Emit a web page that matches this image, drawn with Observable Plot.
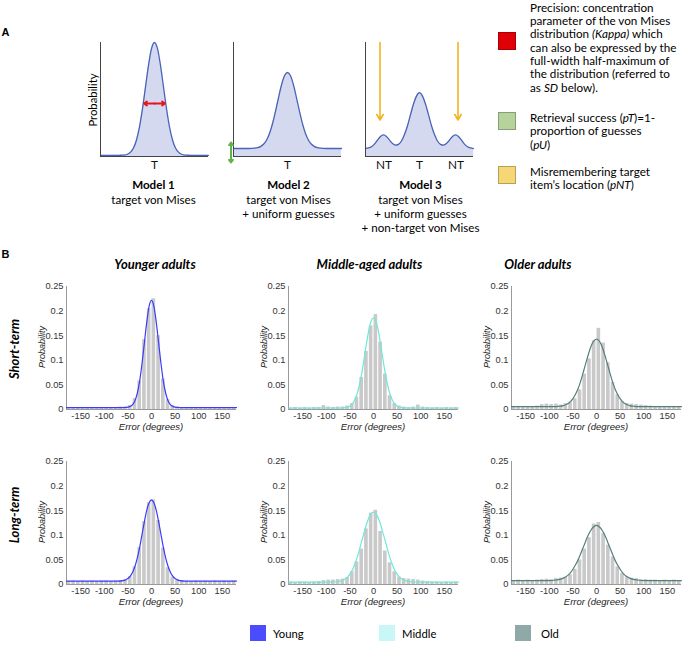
<!DOCTYPE html>
<html><head><meta charset="utf-8">
<script src="https://cdn.jsdelivr.net/npm/d3@7"></script>
<script src="https://cdn.jsdelivr.net/npm/@observablehq/plot@0.6"></script>
<style>
body{margin:0;background:#fff;}
#fig{position:relative;width:683px;height:645px;overflow:hidden;font-family:Lato,"Open Sans",sans-serif;color:#000;}
#fig svg{position:absolute;overflow:visible;background:transparent;}
.t{position:absolute;white-space:nowrap;line-height:1.15;}
.sw{position:absolute;box-sizing:border-box;}
</style></head><body><div id="fig"></div>
<script>
// ---------- Panel A: schematic model curves ----------
const modelX = [-54,-51,-48,-45,-42,-39,-36,-33,-30,-27,-24,-21,-18,-15,-12,-9,-6,-3,0,3,6,9,12,15,18,21,24,27,30,33,36,39,42,45,48,51,54];
const model1Y = [0.01,0.01,0.01,0.01,0.01,0.01,0.01,0.011,0.013,0.02,0.038,0.075,0.145,0.26,0.42,0.61,0.80,0.947,1.0,0.947,0.80,0.61,0.42,0.26,0.145,0.075,0.038,0.02,0.013,0.011,0.01,0.01,0.01,0.01,0.01,0.01,0.01];
const model2Y = [0.07,0.07,0.07,0.07,0.07,0.07,0.071,0.073,0.077,0.087,0.107,0.143,0.202,0.287,0.395,0.515,0.627,0.708,0.737,0.708,0.627,0.515,0.395,0.287,0.202,0.143,0.107,0.087,0.077,0.073,0.071,0.07,0.07,0.07,0.07,0.07,0.07];
const model3Y = [0.07,0.075,0.086,0.109,0.143,0.176,0.19,0.176,0.144,0.114,0.10,0.107,0.136,0.192,0.27,0.367,0.46,0.53,0.56,0.53,0.46,0.367,0.27,0.192,0.136,0.107,0.10,0.114,0.144,0.176,0.19,0.176,0.143,0.109,0.086,0.075,0.07];
const model1Ticks = [{x:0,label:"T"}];
const model2Ticks = [{x:0,label:"T"}];
const model3Ticks = [{x:-35.5,label:"NT"},{x:0,label:"T"},{x:36.5,label:"NT"}];
const precisionArrow = {y:0.465, from:-10.5, to:10.5};
const guessArrow = {x:-56.5, from:0.123, to:-0.053};
const ntArrows = [{x:-39.5, top:1.0, bottom:0.32},{x:38.5, top:1.0, bottom:0.32}];

// ---------- Panel B: histograms (10° bins) and fitted curves ----------
const binCenters = [-175,-165,-155,-145,-135,-125,-115,-105,-95,-85,-75,-65,-55,-45,-35,-25,-15,-5,5,15,25,35,45,55,65,75,85,95,105,115,125,135,145,155,165,175];
const youngShortBars = [0.004,0.003,0.004,0.003,0.004,0.003,0.004,0.004,0.003,0.004,0.004,0.005,0.005,0.008,0.022,0.058,0.142,0.205,0.225,0.150,0.062,0.020,0.008,0.005,0.004,0.004,0.003,0.004,0.003,0.004,0.003,0.004,0.003,0.004,0.003,0.004];
const middleShortBars = [0.003,0.004,0.003,0.004,0.003,0.004,0.004,0.008,0.005,0.004,0.005,0.005,0.007,0.012,0.025,0.065,0.118,0.170,0.193,0.137,0.072,0.028,0.012,0.007,0.005,0.004,0.005,0.009,0.005,0.004,0.003,0.004,0.003,0.004,0.003,0.004];
const olderShortBars = [0.006,0.005,0.006,0.005,0.006,0.007,0.010,0.011,0.010,0.011,0.009,0.012,0.015,0.022,0.040,0.072,0.103,0.140,0.165,0.135,0.095,0.055,0.030,0.016,0.012,0.011,0.010,0.009,0.008,0.007,0.006,0.006,0.005,0.006,0.005,0.006];
const youngLongBars = [0.006,0.007,0.006,0.007,0.006,0.007,0.006,0.007,0.007,0.006,0.007,0.008,0.010,0.016,0.036,0.075,0.128,0.166,0.172,0.130,0.074,0.034,0.015,0.010,0.008,0.007,0.006,0.007,0.006,0.007,0.006,0.007,0.006,0.007,0.006,0.007];
const middleLongBars = [0.005,0.004,0.005,0.005,0.004,0.005,0.006,0.008,0.009,0.009,0.010,0.011,0.014,0.026,0.046,0.072,0.113,0.145,0.151,0.108,0.068,0.044,0.026,0.015,0.012,0.011,0.010,0.009,0.007,0.006,0.005,0.005,0.004,0.005,0.004,0.005];
const olderLongBars = [0.008,0.009,0.008,0.009,0.008,0.009,0.010,0.011,0.010,0.012,0.013,0.015,0.020,0.031,0.050,0.072,0.095,0.123,0.126,0.104,0.080,0.056,0.036,0.022,0.016,0.013,0.012,0.010,0.010,0.009,0.009,0.008,0.009,0.008,0.009,0.008];

const curveX = [-180,-150,-120,-100,-90,-80,-70,-60,-55,-50,-45,-40,-35,-30,-25,-20,-15,-10,-5,0,5,10,15,20,25,30,35,40,45,50,55,60,70,80,90,100,120,150,180];
const youngShortFit = [0.004,0.004,0.004,0.004,0.004,0.004,0.004,0.004,0.0042,0.0048,0.0064,0.010,0.018,0.033,0.058,0.094,0.136,0.178,0.210,0.222,0.210,0.178,0.136,0.094,0.058,0.033,0.018,0.010,0.0064,0.0048,0.0042,0.004,0.004,0.004,0.004,0.004,0.004,0.004,0.004];
const middleShortFit = [0.003,0.003,0.003,0.003,0.003,0.003,0.003,0.0037,0.0047,0.007,0.011,0.019,0.031,0.049,0.073,0.102,0.133,0.161,0.180,0.186,0.180,0.161,0.133,0.102,0.073,0.049,0.031,0.019,0.011,0.007,0.0047,0.0037,0.003,0.003,0.003,0.003,0.003,0.003,0.003];
const olderShortFit = [0.006,0.006,0.006,0.006,0.006,0.0065,0.008,0.012,0.016,0.022,0.030,0.040,0.053,0.069,0.086,0.103,0.119,0.132,0.140,0.143,0.140,0.132,0.119,0.103,0.086,0.069,0.053,0.040,0.030,0.022,0.016,0.012,0.008,0.0065,0.006,0.006,0.006,0.006,0.006];
const youngLongFit = [0.007,0.007,0.007,0.007,0.007,0.007,0.007,0.008,0.0095,0.012,0.017,0.025,0.037,0.054,0.076,0.102,0.128,0.151,0.166,0.172,0.166,0.151,0.128,0.102,0.076,0.054,0.037,0.025,0.017,0.012,0.0095,0.008,0.007,0.007,0.007,0.007,0.007,0.007,0.007];
const middleLongFit = [0.005,0.005,0.005,0.005,0.005,0.0056,0.007,0.011,0.015,0.021,0.029,0.040,0.054,0.070,0.088,0.105,0.122,0.135,0.144,0.147,0.144,0.135,0.122,0.105,0.088,0.070,0.054,0.040,0.029,0.021,0.015,0.011,0.007,0.0056,0.005,0.005,0.005,0.005,0.005];
const olderLongFit = [0.008,0.008,0.008,0.008,0.0086,0.010,0.013,0.019,0.024,0.031,0.039,0.048,0.059,0.071,0.083,0.095,0.105,0.113,0.118,0.120,0.118,0.113,0.105,0.095,0.083,0.071,0.059,0.048,0.039,0.031,0.024,0.019,0.013,0.010,0.0086,0.008,0.008,0.008,0.008];

const xTicks = [-150,-100,-50,0,50,100,150];
const yTicks = [0,0.05,0.1,0.15,0.2,0.25];
const groups = ["Young","Middle","Old"];
const groupTitles = ["Younger adults","Middle-aged adults","Older adults"];
const rowTitles = ["Short-term","Long-term"];
const lineColors = ["#3a3aff","#6ee8d8","#557f7c"];
const swatchColors = ["#4b4bff","#c9f6f6","#8fa9a8"];

// ---------- helpers ----------
const fig = document.getElementById("fig");
function put(html, x, y, o = {}) {
  const d = document.createElement("div");
  d.className = "t";
  d.innerHTML = html;
  const a = o.anchor || "middle";
  const tx = a === "middle" ? "-50%" : a === "end" ? "-100%" : "0";
  d.style.left = x + "px"; d.style.top = y + "px";
  d.style.fontSize = (o.size || 11) + "px";
  d.style.fontWeight = o.weight || 400;
  if (o.italic) d.style.fontStyle = "italic";
  if (o.family) d.style.fontFamily = o.family;
  if (o.color) d.style.color = o.color;
  d.style.transform = `translate(${tx},-50%)` + (o.rotate ? ` rotate(${o.rotate}deg)` : "");
  fig.appendChild(d);
}
function place(svg, left, top) { svg.style.left = left + "px"; svg.style.top = top + "px"; fig.appendChild(svg); }

// ---------- Panel A plots ----------
const AFILL = "#d4d9ef", ALINE = "#4a63b8";
function modelPlot(ys, ticks, extra) {
  const data = modelX.map((x, i) => ({x, y: ys[i]}));
  return Plot.plot({
    width: 124, height: 136, marginLeft: 12, marginRight: 4, marginTop: 4, marginBottom: 18,
    x: {domain: [-54, 54], axis: null}, y: {domain: [0, 1], axis: null},
    style: {fontFamily: "Lato, sans-serif", fontSize: "11.8px", background: "transparent", overflow: "visible"},
    marks: [
      Plot.areaY(data, {x: "x", y: "y", fill: AFILL, curve: "monotone-x"}),
      Plot.lineY(data, {x: "x", y: "y", stroke: ALINE, strokeWidth: 1.3, curve: "monotone-x"}),
      Plot.ruleX([-54], {y1: 0, y2: 1, stroke: "#444", strokeWidth: 1}),
      Plot.ruleY([0], {stroke: "#444", strokeWidth: 1}),
      Plot.text(ticks, {x: "x", y: 0, text: "label", dy: 9, fill: "#111"}),
      ...extra
    ]
  });
}
const p1 = modelPlot(model1Y, model1Ticks, [
  Plot.arrow([precisionArrow, precisionArrow], {x1: 0, x2: (d, i) => i ? d.to : d.from, y1: d => d.y, y2: d => d.y, stroke: "#e8141c", strokeWidth: 2, headLength: 5, headAngle: 70})
]);
place(p1, 88, 38);
const p2 = modelPlot(model2Y, model2Ticks, [
  Plot.arrow([guessArrow, guessArrow], {x1: d => d.x, x2: d => d.x, y1: d => (d.from + d.to) / 2, y2: (d, i) => i ? d.to : d.from, stroke: "#5fb34a", strokeWidth: 2, headLength: 5, headAngle: 70})
]);
place(p2, 221, 38);
const p3 = modelPlot(model3Y, model3Ticks, [
  Plot.arrow(ntArrows, {x1: "x", x2: "x", y1: "top", y2: "bottom", stroke: "#f2b321", strokeWidth: 1.6, headLength: 6, headAngle: 60})
]);
place(p3, 353, 38);

put("A", 5.5, 32, {size: 11, weight: 700, family: "Liberation Sans, Arial, sans-serif"});
put("Probability", 91.5, 99.5, {size: 11.3, rotate: -90});
const modelTexts = [
  {x: 153.5, lines: ["Model 1", "target von Mises"]},
  {x: 288.5, lines: ["Model 2", "target von Mises", "+ uniform guesses"]},
  {x: 420.5, lines: ["Model 3", "target von Mises", "+ uniform guesses", "+ non-target von Mises"]}
];
modelTexts.forEach(m => m.lines.forEach((l, i) => put(l, m.x, 185 + (i ? 15 + (i - 1) * 13.8 : 0), {size: 11.6, weight: i ? 400 : 700})));

// right-hand legend of panel A
const legA = [
  {y: 7.5, sw: [498, 32, "#e00008"], lines: ["Precision: concentration", "parameter of the von Mises", "distribution <i>(Kappa)</i> which", "can also be expressed by the", "full-width half-maximum of", "the distribution (referred to", "as <i>SD</i> below)."]},
  {y: 118, sw: [498, 112, "#b6d39b"], lines: ["Retrieval success (<i>pT</i>)=1-", "proportion of guesses", "(<i>pU</i>)"]},
  {y: 172, sw: [498, 166, "#f6d775"], lines: ["Misremembering target", "item’s location (<i>pNT</i>)"]}
];
legA.forEach(b => {
  const s = document.createElement("div"); s.className = "sw";
  Object.assign(s.style, {left: b.sw[0] + "px", top: b.sw[1] + "px", width: "18px", height: "18px", background: b.sw[2], border: "1px solid rgba(0,0,0,0.25)"});
  fig.appendChild(s);
  b.lines.forEach((l, i) => put(l, 530, b.y + i * 13.35, {size: 11.7, anchor: "start"}));
});

// ---------- Panel B plots ----------
const barsByRow = [[youngShortBars, middleShortBars, olderShortBars], [youngLongBars, middleLongBars, olderLongBars]];
const fitsByRow = [[youngShortFit, middleShortFit, olderShortFit], [youngLongFit, middleLongFit, olderLongFit]];
const colLeft = [66, 288, 511];   // y-axis position of each column
const rowTop = [286, 461];        // pixel of y = 0.25 in each row

function histPlot(bars, fit, color) {
  const bd = binCenters.map((c, i) => ({c, v: bars[i]}));
  const cd = curveX.map((x, i) => ({x, y: fit[i]}));
  return Plot.plot({
    width: 208, height: 159, marginLeft: 36, marginRight: 2, marginTop: 6, marginBottom: 30,
    x: {domain: [-180, 180]}, y: {domain: [0, 0.25]},
    style: {fontFamily: "Liberation Sans, Arial, sans-serif", fontSize: "9.3px", color: "#333", background: "transparent", overflow: "visible"},
    marks: [
      Plot.rect(bd, {x1: d => d.c - 5, x2: d => d.c + 5, y1: 0, y2: "v", fill: "#c9c9c9", insetLeft: 0.55, insetRight: 0.55}),
      Plot.ruleY([0], {stroke: "#9a9a9a"}),
      Plot.ruleX([-180], {stroke: "#9a9a9a"}),
      Plot.lineY(cd, {x: "x", y: "y", stroke: color, strokeWidth: 1.2, curve: "monotone-x"}),
      Plot.axisX({ticks: xTicks, tickSize: 0, tickPadding: 3, tickFormat: d => String(d), label: null}),
      Plot.axisY({ticks: yTicks, tickSize: 0, tickPadding: 3, tickFormat: d => String(d), label: null})
    ]
  });
}
rowTop.forEach((top, r) => {
  colLeft.forEach((left, c) => {
    place(histPlot(barsByRow[r][c], fitsByRow[r][c], lineColors[c]), left - 36, top - 6);
    put("Probability", left - 24, top + 61, {size: 9, italic: true, rotate: -90, family: "Liberation Sans, Arial, sans-serif", color: "#222"});
    put("Error (degrees)", left + 85, top + 141, {size: 9.5, italic: true, family: "Liberation Sans, Arial, sans-serif", color: "#222"});
  });
});
put("B", 5.5, 253.5, {size: 11, weight: 700, family: "Liberation Sans, Arial, sans-serif"});
[155, 369.5, 538].forEach((x, i) => put(groupTitles[i], x, 264, {size: 13, weight: 700, italic: true}));
put(rowTitles[0], 13.5, 349, {size: 13, weight: 700, italic: true, rotate: -90});
put(rowTitles[1], 14, 515, {size: 13, weight: 700, italic: true, rotate: -90});

// bottom legend
[[250, 273], [379, 402], [515, 541]].forEach(([sx, tx], i) => {
  const s = document.createElement("div"); s.className = "sw";
  Object.assign(s.style, {left: sx + "px", top: "625px", width: "16px", height: "16px", background: swatchColors[i]});
  fig.appendChild(s);
  put(groups[i], tx, 633, {size: 11.3, anchor: "start"});
});
</script></body></html>
